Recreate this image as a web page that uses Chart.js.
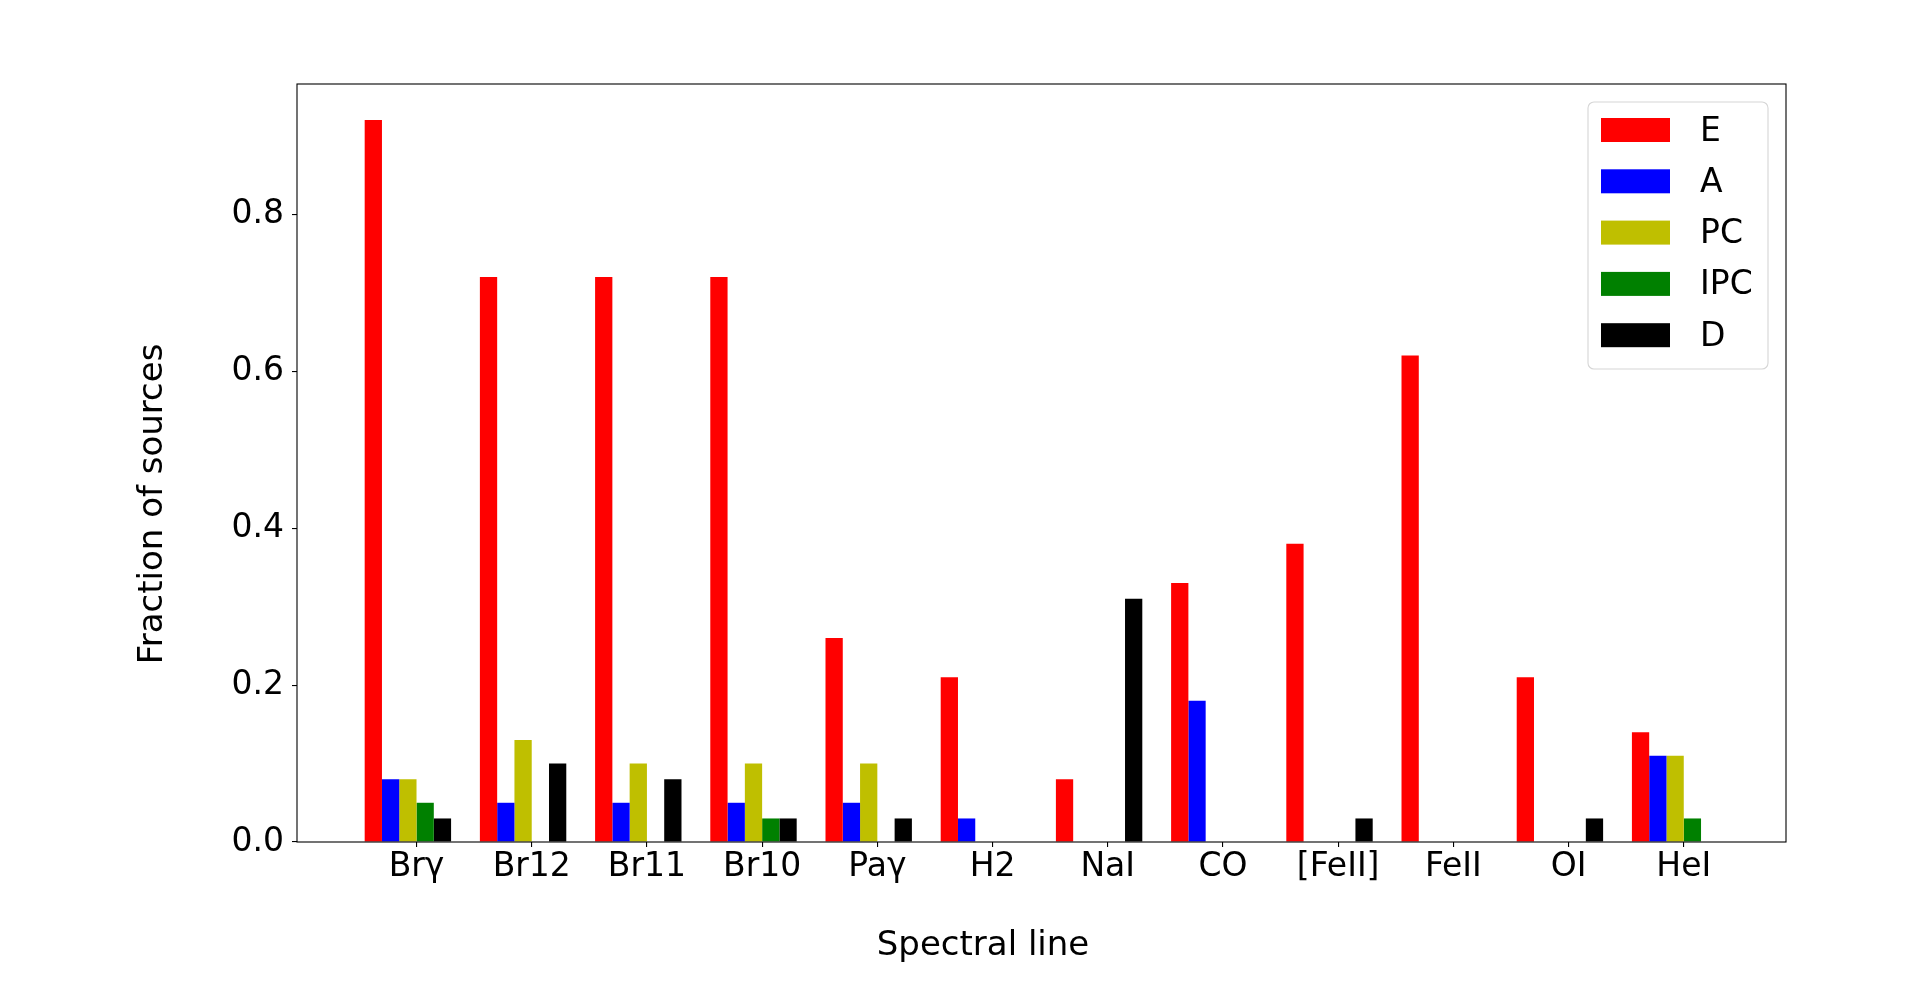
<!DOCTYPE html>
<html>
<head>
<meta charset="utf-8">
<script src="https://cdn.jsdelivr.net/npm/chart.js@4/dist/chart.umd.min.js"></script>
<style>
  html, body { margin: 0; padding: 0; background: #ffffff; }
  canvas { display: block; }
</style>
</head>
<body>
<canvas id="c" width="1920" height="984"></canvas>
<script>
// ---- data ----
const categories = ["Brγ", "Br12", "Br11", "Br10", "Paγ", "H2", "NaI", "CO", "[FeII]", "FeII", "OI", "HeI"];
const seriesNames = ["E", "A", "PC", "IPC", "D"];
const valuesE   = [0.92, 0.72, 0.72, 0.72, 0.26, 0.21, 0.08, 0.33, 0.38, 0.62, 0.21, 0.14];
const valuesA   = [0.08, 0.05, 0.05, 0.05, 0.05, 0.03, 0.00, 0.18, 0.00, 0.00, 0.00, 0.11];
const valuesPC  = [0.08, 0.13, 0.10, 0.10, 0.10, 0.00, 0.00, 0.00, 0.00, 0.00, 0.00, 0.11];
const valuesIPC = [0.05, 0.00, 0.00, 0.03, 0.00, 0.00, 0.00, 0.00, 0.00, 0.00, 0.00, 0.03];
const valuesD   = [0.03, 0.10, 0.08, 0.03, 0.03, 0.00, 0.31, 0.00, 0.03, 0.00, 0.03, 0.00];
const yTickValues = [0.0, 0.2, 0.4, 0.6, 0.8];
const xTitle = "Spectral line";
const yTitle = "Fraction of sources";

// ---- styling ----
const seriesColors = ["#ff0000", "#0000ff", "#bfbf00", "#008000", "#000000"];
const FONT = "'DejaVu Sans', 'Liberation Sans', sans-serif";
const barFrac = 0.15;                 // width of one bar in category units
const nSeries = seriesNames.length;
const groupShift = barFrac / 2;       // matplotlib groups sit half a bar left of the tick

const allSeries = [valuesE, valuesA, valuesPC, valuesIPC, valuesD];
const datasets = allSeries.map((vals, k) => ({
  label: seriesNames[k],
  data: vals.map((v, i) => ({ x: i - groupShift, y: v })),
  backgroundColor: seriesColors[k],
  borderWidth: 0,
  categoryPercentage: barFrac * nSeries,
  barPercentage: 1.0
}));

// x range as matplotlib autoscale: bars extent plus 5% margins
const xLo = -groupShift - barFrac * nSeries / 2;
const xHi = (categories.length - 1) - groupShift + barFrac * nSeries / 2;
const xMargin = (xHi - xLo) * 0.05;
const yMax = Math.max(...valuesE, ...valuesA, ...valuesPC, ...valuesIPC, ...valuesD) * 1.05;

const frameAndLegend = {
  id: 'frameAndLegend',
  afterDatasetsDraw(chart) {
    const { ctx, chartArea: a } = chart;
    ctx.save();
    // spines
    ctx.strokeStyle = '#000000';
    ctx.lineWidth = 1.1;
    ctx.strokeRect(a.left, a.top, a.right - a.left, a.bottom - a.top);
    // legend frame
    const lx = 1588, ly = 102, lw = 180, lh = 267, r = 6;
    ctx.beginPath();
    ctx.roundRect(lx, ly, lw, lh, r);
    ctx.fillStyle = 'rgba(255,255,255,0.8)';
    ctx.fill();
    ctx.strokeStyle = '#d6d6d6';
    ctx.lineWidth = 1.1;
    ctx.stroke();
    ctx.font = '33px ' + FONT;
    ctx.textBaseline = 'middle';
    ctx.textAlign = 'left';
    chart.data.datasets.forEach((ds, k) => {
      const cy = 130 + k * 51.3;
      ctx.fillStyle = ds.backgroundColor;
      ctx.fillRect(1601, cy - 12, 69, 24);
      ctx.fillStyle = '#000000';
      ctx.fillText(ds.label, 1700, cy + 2);
    });
    // axis titles
    ctx.font = '34px ' + FONT;
    ctx.fillStyle = '#000000';
    ctx.textAlign = 'center';
    ctx.textBaseline = 'alphabetic';
    ctx.fillText(xTitle, 983, 955);
    ctx.translate(162, 504);
    ctx.rotate(-Math.PI / 2);
    ctx.fillText(yTitle, 0, 0);
    ctx.restore();
  }
};

new Chart(document.getElementById('c'), {
  type: 'bar',
  data: { datasets },
  options: {
    responsive: false,
    devicePixelRatio: 1,
    animation: false,
    layout: { padding: { left: 0, top: 84, right: 134, bottom: 0 } },
    plugins: { legend: { display: false }, tooltip: { enabled: false } },
    scales: {
      x: {
        type: 'linear',
        offset: false,
        min: xLo - xMargin,
        max: xHi + xMargin,
        afterBuildTicks: (s) => { s.ticks = categories.map((c, i) => ({ value: i })); },
        afterFit: (s) => { s.height = 142; },
        ticks: {
          callback: (v, i) => categories[i],
          autoSkip: false,
          maxRotation: 0,
          minRotation: 0,
          padding: 1,
          color: '#000000',
          font: { family: FONT, size: 33 }
        },
        grid: { display: true, offset: false, drawOnChartArea: false, drawTicks: true, tickLength: 5, color: '#000000', lineWidth: 1.1 },
        border: { display: false }
      },
      y: {
        type: 'linear',
        min: 0,
        max: yMax,
        afterBuildTicks: (s) => { s.ticks = yTickValues.map(v => ({ value: v })); },
        afterFit: (s) => { s.width = 297; },
        ticks: {
          callback: (v) => Number(v).toFixed(1),
          padding: 8,
          color: '#000000',
          font: { family: FONT, size: 33 }
        },
        grid: { display: true, drawOnChartArea: false, drawTicks: true, tickLength: 5, color: '#000000', lineWidth: 1.1 },
        border: { display: false }
      }
    }
  },
  plugins: [frameAndLegend]
});
</script>
</body>
</html>
